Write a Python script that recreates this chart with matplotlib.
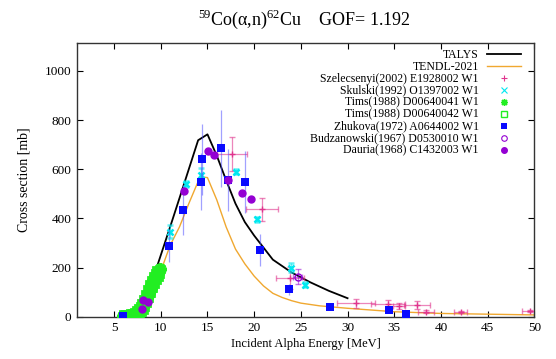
import numpy as np
import matplotlib
matplotlib.use("Agg")
import matplotlib.pyplot as plt
from matplotlib.lines import Line2D

plt.rcParams['font.family'] = ['Liberation Serif', 'DejaVu Serif']
plt.rcParams['mathtext.fontset'] = 'custom'
plt.rcParams['mathtext.rm'] = 'Liberation Serif'

# model curves
talys_e = [6, 7, 8, 9, 10, 11, 12, 13, 14, 15, 16, 17, 18, 19, 20, 22, 24, 26, 28, 30]
talys_xs = [1, 12, 55, 135, 250, 365, 482, 600, 718, 742, 655, 555, 460, 385, 330, 232, 180, 140, 105, 75]

tendl_e = [6, 7, 8, 9, 10, 11, 12, 13, 14, 14.5, 15, 16, 17, 18, 19, 20, 21, 22, 23, 24, 25, 27, 30, 35, 40, 45, 50]
tendl_xs = [1, 6, 25, 80, 185, 290, 365, 460, 550, 568, 566, 475, 365, 275, 215, 165, 125, 95, 78, 65, 55, 44, 34, 20, 13, 10, 7]

# Szelecsenyi(2002) E1928002
szel_e = [17.6, 20.8, 23.8, 30.9, 34.3, 35.5, 37.4, 38.4, 42.1, 49.5]
szel_xs = [662, 437, 156, 55, 53, 42, 47, 19, 18, 23]
szel_de = [1.6, 1.7, 1.5, 2.0, 1.8, 0.6, 1.4, 0.9, 0.7, 0.8]
szel_dxs = [70, 47, 45, 18, 15, 12, 16, 6, 5, 6]

# Skulski(1992) O1397002
sk_e = [11.0, 12.7, 14.35, 18.05, 20.35, 23.9, 25.4]
sk_xs = [346, 540, 576, 590, 397, 200, 130]
sk_dxs = [25, 12, 30, 10, 10, 18, 10]

# Tims(1988) D00640041 / D00640042 (dense thin-target runs below 10 MeV)
tims1_e = [6.0, 6.1, 6.2, 6.3, 6.4, 6.5, 6.6, 6.7, 6.8, 6.9,
           7.0, 7.1, 7.2, 7.3, 7.4, 7.5, 7.6, 7.7, 7.8, 7.9,
           8.0, 8.1, 8.2, 8.3, 8.4, 8.5, 8.6, 8.7, 8.8, 8.9,
           9.0, 9.1, 9.2, 9.3, 9.4, 9.5, 9.6, 9.7, 9.8, 9.9]
tims1_xs = [1, 1, 1, 2, 2, 2, 3, 3, 4, 5,
            6, 8, 9, 11, 13, 16, 19, 23, 27, 31,
            38, 44, 52, 60, 68, 78, 88, 98, 108, 118,
            127, 136, 144, 152, 160, 167, 174, 180, 186, 192]
tims2_e = [6.15, 6.35, 6.55, 6.75, 6.95, 7.15, 7.35, 7.55, 7.75, 7.95,
           8.15, 8.35, 8.55, 8.75, 8.95, 9.15, 9.35, 9.55, 9.75]
tims2_xs = [1, 2, 2, 3, 5, 8, 12, 17, 25, 35,
            48, 64, 83, 103, 123, 140, 156, 170, 183]

# Zhukova(1972) A0644002
zh_e = [5.93, 10.83, 12.43, 14.3, 14.44, 16.47, 17.19, 19.05, 20.58, 23.78, 28.1, 34.4, 36.3]
zh_xs = [2, 289, 434, 550, 640, 685, 555, 549, 271, 111, 38, 26, 12]
zh_dxs = [2, 67, 101, 115, 146, 158, 126, 126, 64, 22, 4, 4, 3]

# Budzanowski(1967) D0530010
bu_e = [24.65]
bu_xs = [163]
bu_de = [0.5]
bu_dxs = [30]

# Dauria(1968) C1432003
da_e = [8.0, 8.15, 8.68, 12.51, 15.04, 15.72, 17.19, 18.69, 19.69]
da_xs = [31, 68, 61, 512, 675, 656, 556, 504, 480]

c_pink = '#e0358e'
c_cyan = '#00e8f0'
c_green = '#22ee22'
c_blue = '#0a0aff'
c_purple = '#9400d3'
c_orange = '#f0a830'

fig = plt.figure(figsize=(5.56, 3.59), dpi=100)
ax = fig.add_axes([0.138, 0.118, 0.823, 0.761])

ax.plot(talys_e, talys_xs, color='black', lw=1.3, zorder=2)
ax.plot(tendl_e, tendl_xs, color=c_orange, lw=1.0, zorder=2)

eb = dict(capsize=2.2, elinewidth=0.9, capthick=0.9, linestyle='none')
ax.errorbar(szel_e, szel_xs, xerr=szel_de, yerr=szel_dxs, color=c_pink, ecolor=c_pink + '99',
            marker='+', ms=5, mew=1.0, zorder=3, **eb)
ax.errorbar(sk_e, sk_xs, yerr=sk_dxs, color=c_cyan, ecolor=c_cyan + '99',
            marker='x', ms=5, mew=1.8, zorder=3, **eb)
ax.plot(tims1_e, tims1_xs, linestyle='none', marker=(8, 2, 0), ms=9, mew=2.6,
        color=c_green, zorder=3)
ax.plot(tims2_e, tims2_xs, linestyle='none', marker='s', ms=6.5, mew=2,
        color=c_green, zorder=3)
ax.errorbar(zh_e, zh_xs, yerr=zh_dxs, color=c_blue, ecolor='#5050ff88',
            marker='s', ms=5.5, mew=0, zorder=4, **eb)
ax.errorbar(bu_e, bu_xs, xerr=bu_de, yerr=bu_dxs, color=c_purple, ecolor=c_purple + '88',
            marker='o', ms=5, mfc='none', mew=1.0, zorder=4, **eb)
ax.plot(da_e, da_xs, linestyle='none', marker='o', ms=5, color=c_purple, zorder=5)

ax.set_xlim(1, 50)
ax.set_ylim(0, 1112)
ax.set_xticks(np.arange(5, 51, 5))
ax.set_yticks(np.arange(0, 1001, 200))
ax.tick_params(direction='in', top=True, right=True, length=4.5, width=0.8,
               labelsize=9.5, pad=4)
for s in ax.spines.values():
    s.set_linewidth(1.0)
    s.set_color('#333333')

ax.set_xlabel('Incident Alpha Energy [MeV]', fontsize=9, labelpad=3)
ax.set_ylabel('Cross section [mb]', fontsize=10, labelpad=10)

fig.text(0.547, 0.945, r'$^{59}$Co(α,n)$^{62}$Cu    GOF= 1.192', ha='center', va='center',
         fontsize=13)

handles = [
    Line2D([], [], color='black', lw=1.3),
    Line2D([], [], color=c_orange, lw=1.0),
    Line2D([], [], color=c_pink, marker='+', ms=5, mew=0.8, linestyle='none'),
    Line2D([], [], color=c_cyan, marker='x', ms=4, mew=0.8, linestyle='none'),
    Line2D([], [], color=c_green, marker=(8, 2, 0), ms=5, mew=1.0, linestyle='none'),
    Line2D([], [], color=c_green, marker='s', ms=4, mfc='none', mew=1.0, linestyle='none'),
    Line2D([], [], color=c_blue, marker='s', ms=4, mew=0, linestyle='none'),
    Line2D([], [], color=c_purple, marker='o', ms=4, mfc='none', mew=0.8, linestyle='none'),
    Line2D([], [], color=c_purple, marker='o', ms=4, linestyle='none'),
]
labels = ['TALYS', 'TENDL-2021', 'Szelecsenyi(2002) E1928002 W1', 'Skulski(1992) O1397002 W1',
          'Tims(1988) D00640041 W1', 'Tims(1988) D00640042 W1', 'Zhukova(1972) A0644002 W1',
          'Budzanowski(1967) D0530010 W1', 'Dauria(1968) C1432003 W1']
leg = ax.legend(handles, labels, loc='upper right', bbox_to_anchor=(0.982, 1.0),
                frameon=False, markerfirst=False,
                fontsize=8.5, handlelength=2.9, handletextpad=0.65, labelspacing=0.0,
                borderaxespad=0.3, borderpad=0.15)
for t in leg.get_texts():
    t.set_ha('right')

fig.savefig('out.png', dpi=100)
